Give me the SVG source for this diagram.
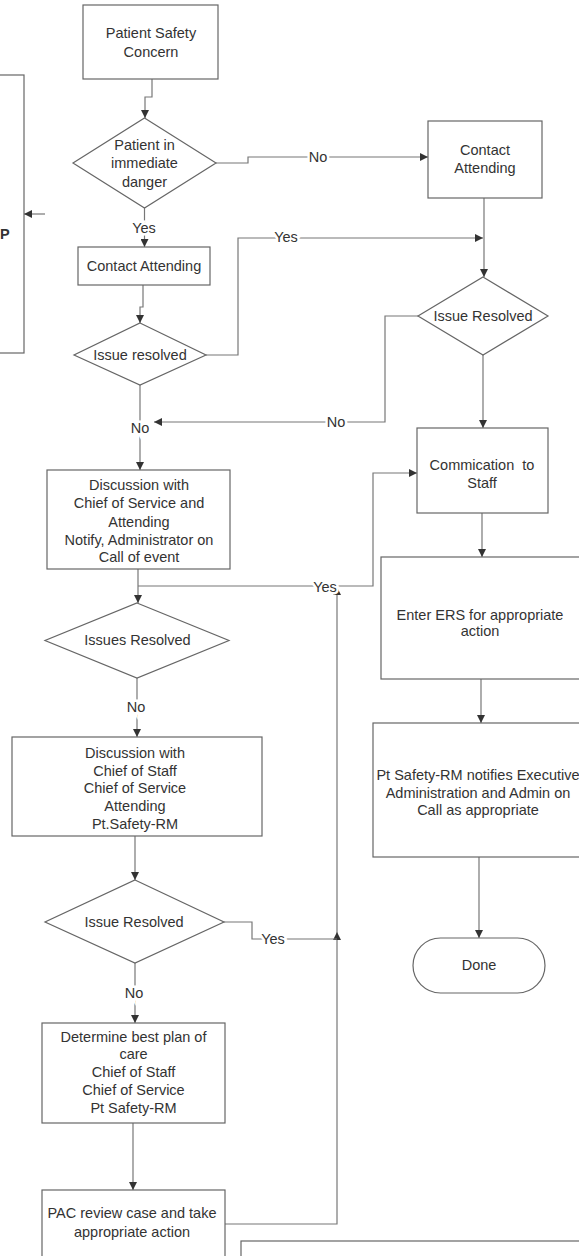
<svg xmlns="http://www.w3.org/2000/svg" width="579" height="1256" viewBox="0 0 579 1256">
<style>
.box{fill:#fff;stroke:#666;stroke-width:1.2}
.t{font-family:"Liberation Sans",Arial,sans-serif;font-size:14.5px;fill:#333;text-anchor:middle}
.lbl{font-family:"Liberation Sans",Arial,sans-serif;font-size:14.5px;fill:#333;text-anchor:middle;stroke:#fff;stroke-width:5;paint-order:stroke}
.c{fill:none;stroke:#777;stroke-width:1.2}
</style>
<defs>
<marker id="ah" viewBox="0 0 10 10" refX="10" refY="5" markerWidth="8" markerHeight="8" markerUnits="userSpaceOnUse" orient="auto">
<path d="M0,0 L10,5 L0,10 z" fill="#333"/>
</marker>
</defs>
<rect width="579" height="1256" fill="#fff"/>
<g id="connectors">
<path class="c" d="M152,79 V97 H145 V118" marker-end="url(#ah)"/>
<path class="c" d="M216,163 H248 V157 H428" marker-end="url(#ah)"/>
<path class="c" d="M144.5,208 V247" marker-end="url(#ah)"/>
<path class="c" d="M143,285 V307 H140 V323" marker-end="url(#ah)"/>
<path class="c" d="M206,355 H238 V238 H483" marker-end="url(#ah)"/>
<path class="c" d="M484,198 V277" marker-end="url(#ah)"/>
<path class="c" d="M418,316 H385 V422 H154" marker-end="url(#ah)"/>
<path class="c" d="M140,385 V470" marker-end="url(#ah)"/>
<path class="c" d="M483,355 V428" marker-end="url(#ah)"/>
<path class="c" d="M138,569 V603" marker-end="url(#ah)"/>
<path class="c" d="M138,586 H373 V473 H417" marker-end="url(#ah)"/>
<path class="c" d="M225,1224 H337 V932" marker-end="url(#ah)"/>
<path class="c" d="M337,932 V587" marker-end="url(#ah)"/>
<path class="c" d="M224,922 H252 V939 H337"/>
<path class="c" d="M137,678 V737" marker-end="url(#ah)"/>
<path class="c" d="M135,836 V880" marker-end="url(#ah)"/>
<path class="c" d="M135,963 V1023" marker-end="url(#ah)"/>
<path class="c" d="M133,1123 V1190" marker-end="url(#ah)"/>
<path class="c" d="M482,513 V557" marker-end="url(#ah)"/>
<path class="c" d="M481,679 V723" marker-end="url(#ah)"/>
<path class="c" d="M479,857 V938" marker-end="url(#ah)"/>
<path class="c" d="M45,214 H24" stroke="#bbb" marker-end="url(#ah)"/>
<text class="lbl" x="318" y="162">No</text>
<text class="lbl" x="144" y="233">Yes</text>
<text class="lbl" x="286" y="242">Yes</text>
<text class="lbl" x="336" y="427">No</text>
<text class="lbl" x="140" y="433">No</text>
<text class="lbl" x="325" y="592">Yes</text>
<text class="lbl" x="136" y="712">No</text>
<text class="lbl" x="273" y="944">Yes</text>
<text class="lbl" x="134" y="998">No</text>
</g>
<g id="n_left_partial">
<rect class="box" x="-10" y="75" width="34" height="278" stroke="#999"/>
<text x="0" y="239" font-family="Liberation Sans,Arial,sans-serif" font-size="14.5" font-weight="bold" fill="#333">P</text>
</g>
<g id="n_concern">
<rect class="box" x="83" y="5" width="135" height="74" stroke="#444"/>
<text class="t" x="151" y="38">Patient Safety</text>
<text class="t" x="151" y="57">Concern</text>
</g>
<g id="d_danger">
<polygon class="box" points="144.5,118 216,163 144.5,208 73,163" stroke="#444"/>
<text class="t" x="144.5" y="150">Patient in</text>
<text class="t" x="144.5" y="168">immediate</text>
<text class="t" x="144.5" y="187">danger</text>
</g>
<g id="n_contact_left">
<rect class="box" x="78" y="247" width="132" height="38" stroke="#444"/>
<text class="t" x="144" y="271">Contact Attending</text>
</g>
<g id="d_resolved_left">
<polygon class="box" points="140,323 206,355 140,385 74,355" stroke="#444"/>
<text class="t" x="140" y="360">Issue resolved</text>
</g>
<g id="n_contact_right">
<rect class="box" x="428" y="121" width="114" height="77"/>
<text class="t" x="485" y="155">Contact</text>
<text class="t" x="485" y="173">Attending</text>
</g>
<g id="d_resolved_right">
<polygon class="box" points="483,277 548,316 483,355 418,316"/>
<text class="t" x="483" y="321">Issue Resolved</text>
</g>
<g id="n_comm">
<rect class="box" x="417" y="428" width="131" height="85"/>
<text class="t" x="482" y="470" xml:space="preserve">Commication  to</text>
<text class="t" x="482" y="488">Staff</text>
</g>
<g id="n_discuss1">
<rect class="box" x="47" y="470" width="183" height="99"/>
<text class="t" x="139" y="490">Discussion with</text>
<text class="t" x="139" y="508">Chief of Service and</text>
<text class="t" x="139" y="527">Attending</text>
<text class="t" x="139" y="545">Notify, Administrator on</text>
<text class="t" x="139" y="562">Call of event</text>
</g>
<g id="d_issues">
<polygon class="box" points="137,603 229,640.5 137,678 45,640.5"/>
<text class="t" x="137.5" y="645">Issues Resolved</text>
</g>
<g id="n_discuss2">
<rect class="box" x="12" y="737" width="250" height="99"/>
<text class="t" x="135" y="758">Discussion with</text>
<text class="t" x="135" y="776">Chief of Staff</text>
<text class="t" x="135" y="793">Chief of Service</text>
<text class="t" x="135" y="811">Attending</text>
<text class="t" x="135" y="829">Pt.Safety-RM</text>
</g>
<g id="d_resolved3">
<polygon class="box" points="135,880 224,922 135,963 45,922"/>
<text class="t" x="134" y="927">Issue Resolved</text>
</g>
<g id="n_determine">
<rect class="box" x="42" y="1023" width="183" height="100"/>
<text class="t" x="133.5" y="1042">Determine best plan of</text>
<text class="t" x="133.5" y="1059">care</text>
<text class="t" x="133.5" y="1077">Chief of Staff</text>
<text class="t" x="133.5" y="1095">Chief of Service</text>
<text class="t" x="133.5" y="1113">Pt Safety-RM</text>
</g>
<g id="n_pac">
<rect class="box" x="42" y="1190" width="183" height="80"/>
<text class="t" x="132" y="1218">PAC review case and take</text>
<text class="t" x="132" y="1237">appropriate action</text>
</g>
<g id="n_ers">
<rect class="box" x="381" y="557" width="210" height="122"/>
<text class="t" x="480" y="620">Enter ERS for appropriate</text>
<text class="t" x="480" y="636">action</text>
</g>
<g id="n_notify">
<rect class="box" x="373" y="723" width="220" height="134"/>
<text class="t" x="478" y="780">Pt Safety-RM notifies Executive</text>
<text class="t" x="478" y="798">Administration and Admin on</text>
<text class="t" x="478" y="815">Call as appropriate</text>
</g>
<g id="n_done">
<rect class="box" x="413" y="938" width="132" height="55" rx="27.5" ry="27.5"/>
<text class="t" x="479" y="970">Done</text>
</g>
<g id="n_bottom_partial">
<rect class="box" x="241" y="1241" width="350" height="40" stroke="#888"/>
</g>
</svg>
